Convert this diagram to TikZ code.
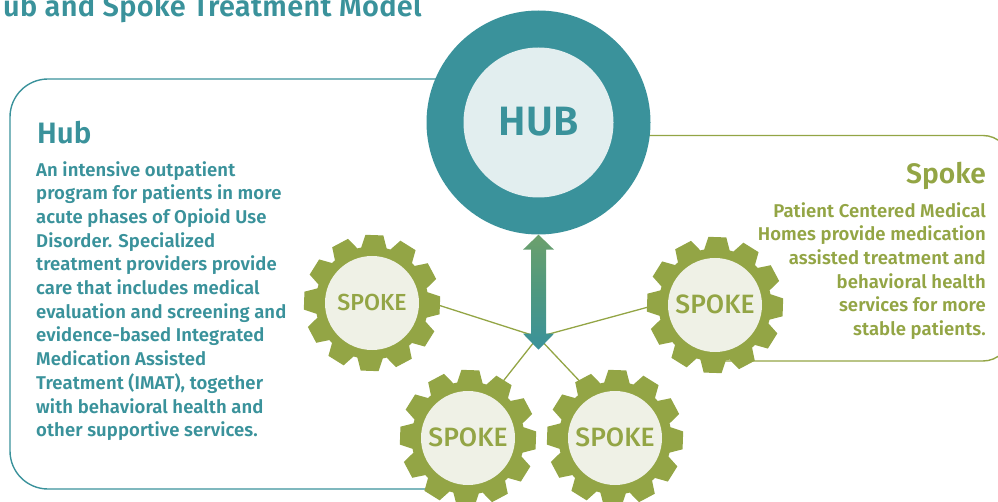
\documentclass[tikz,border=0pt]{standalone}
\usepackage{fontspec}
\setmainfont{Fira Sans}
\newfontfamily\medf{Fira Sans SemiBold}[LetterSpace=0.5]
\newfontfamily\medt{Fira Sans SemiBold}[LetterSpace=1.2]
\newfontfamily\medh{Fira Sans SemiBold}
\newfontfamily\medg{Fira Sans Medium}
\usetikzlibrary{backgrounds,calc}
\definecolor{teal1}{RGB}{58,146,155}
\definecolor{olive1}{RGB}{147,165,69}
\definecolor{disc1}{RGB}{239,241,230}
\definecolor{hubin}{RGB}{226,238,239}
\definecolor{arrowtop}{RGB}{108,160,108}
\definecolor{arrowmid}{RGB}{78,152,128}
\newcommand{\gearshape}[1]{%
  \fill[olive1] (#1) ++(2-13:56.5)
  \foreach \a in {0,30,...,330}{
    -- ($(#1)+(\a+2-13:56.5)$) -- ($(#1)+(\a+2-7.5:68.5)$) -- ($(#1)+(\a+2+7.5:68.5)$) -- ($(#1)+(\a+2+13:56.5)$)
  } -- cycle;}
\tikzset{
  disc/.style={circle,fill=disc1,draw=none,minimum size=94pt,inner sep=0pt,text=olive1},
  spokelabel/.style={font=\fontsize{26.5}{26.5}\medg},
  spokelabelsmall/.style={font=\fontsize{23.2}{23.2}\medg},
  thin link/.style={draw=olive1,line width=1.3pt},
  panelhub/.style={draw=teal1,line width=1.4pt,rounded corners=38pt},
  panelspoke/.style={draw=olive1,line width=1.4pt,rounded corners=27pt},
  bodytext/.style={inner sep=0pt,font=\fontsize{18.5}{23.7}\medf},
  headtext/.style={inner sep=0pt,font=\fontsize{29.5}{30}\medh}
}
\begin{document}
\begin{tikzpicture}[x=1pt,y=-1pt]
\useasboundingbox (0,0) rectangle (998,502);
\coordinate (c1) at (372,303);
\coordinate (c2) at (468,438);
\coordinate (c3) at (615,438);
\coordinate (c4) at (715,305);
\coordinate (J) at (538,337);
\node[inner sep=0pt,anchor=base west,text=teal1,font=\fontsize{28.9}{29}\medt] (title) at (3,16.5) {ub and Spoke Treatment Model};
\gearshape{c1}\gearshape{c2}\gearshape{c3}\gearshape{c4}
\node[disc,spokelabelsmall] (g1) at (c1) {\raisebox{1.5pt}{SPOKE}};
\node[disc,spokelabel] (g2) at (c2) {\raisebox{1pt}{SPOKE}};
\node[disc,spokelabel] (g3) at (c3) {\raisebox{1pt}{SPOKE}};
\node[disc,spokelabel] (g4) at (c4) {\raisebox{1pt}{SPOKE}};
\node[circle,fill=teal1,minimum size=224pt,inner sep=0pt] (hub) at (538.5,122.5) {};
\node[circle,fill=hubin,minimum size=150pt,inner sep=0pt,text=teal1,font=\fontsize{41}{41}\medh] (hubin) at (hub.center) {\raisebox{3pt}{HUB}};
\shade[top color=arrowtop,bottom color=teal1,middle color=arrowmid]
  (hub.south) -- ++(15.5,15) -- ++(-8,0) -- ++(0,84) -- ++(8,0) -- ++(-15.5,16) -- ++(-15.5,-16) -- ++(8,0) -- ++(0,-84) -- ++(-8,0) -- cycle;
\begin{pgfonlayer}{background}
  \draw[thin link] (g1.5) -- (J);
  \draw[thin link] (g2.61) -- (J);
  \draw[thin link] (g3.117) -- (J);
  \draw[thin link] (g4.176) -- (J);
  \draw[panelhub] (hub.center) |- (10,79) |- (468,489);
  \draw[panelspoke] (hub.center) |- (1010,135.5) |- (c4 |- 0,361);
\end{pgfonlayer}
\node[headtext,text=teal1,anchor=base west] (hubhead) at (37,144) {Hub};
\node[bodytext,text=teal1,anchor=north west,align=left] (hubbody) at (36,161) {An intensive outpatient\\program for patients in more\\acute phases of Opioid Use\\Disorder. Specialized\\treatment providers provide\\care that includes medical\\evaluation and screening and\\evidence-based Integrated\\Medication Assisted\\Treatment (IMAT), together\\with behavioral health and\\other supportive services.};
\node[inner sep=0pt,font=\fontsize{28.2}{30}\medh,text=olive1,anchor=base east] (spokehead) at (986,183.5) {Spoke};
\node[bodytext,text=olive1,anchor=north east,align=right] (spokebody) at (986,202) {Patient Centered Medical\\Homes provide medication\\assisted treatment and\\behavioral health\\services for more\\stable patients.};
\end{tikzpicture}
\end{document}
